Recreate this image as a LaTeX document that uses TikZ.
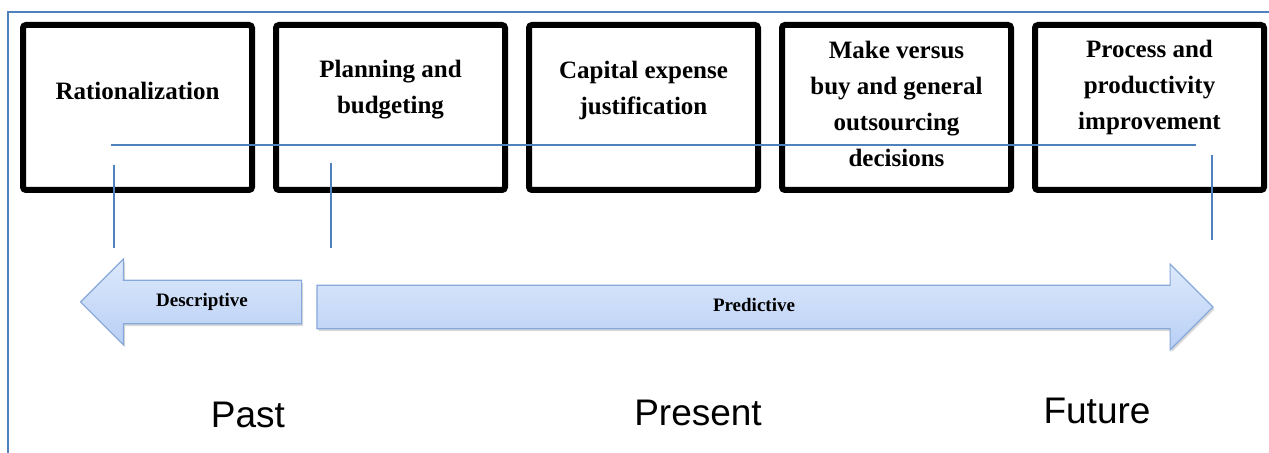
\documentclass[tikz,border=0pt]{standalone}
\usepackage{fontspec}
\setmainfont{Liberation Serif}
\newfontfamily\arialfont{Liberation Sans}
\usepackage{tikz}
\usetikzlibrary{shapes,shadows,arrows,positioning}
\definecolor{wordblue}{RGB}{79,129,189}
\definecolor{arrowtop}{RGB}{221,233,252}
\definecolor{arrowbot}{RGB}{184,207,245}
\definecolor{arrowline}{RGB}{135,168,218}
\tikzstyle{rule} = [draw=wordblue, line width=0.75pt]
\tikzstyle{stage} = [rectangle, draw, line width=3pt, rounded corners=1.5pt, minimum width=229pt, minimum height=165pt, node distance=253pt]
\tikzstyle{stagetext} = [align=center, font=\fontsize{25}{36}\selectfont\bfseries]
\tikzstyle{era} = [single arrow, draw=arrowline, line width=0.6pt, top color=arrowtop, bottom color=arrowbot, text height=13pt, text depth=4pt, inner ysep=13pt, inner xsep=0pt, single arrow head extend=21pt, single arrow head indent=0pt, drop shadow={opacity=0.3, shadow xshift=0.8pt, shadow yshift=-1.2pt}, font=\fontsize{19}{19}\selectfont\bfseries]
\tikzstyle{when} = [font=\arialfont\fontsize{37}{37}\selectfont]

\begin{document}
\begin{tikzpicture}[x=1pt, y=-1pt, scale=0.5, every node/.style={transform shape}]
	\useasboundingbox (0,0) rectangle (1269,453);
	\draw [wordblue, line width=1pt] (1269,12) -- (8,12) -- (8,453);

	% application boxes
	\node [stage] (rat) at (137.5,107.5) {};
	\node [stage, right of=rat] (plan) {};
	\node [stage, right of=plan] (capex) {};
	\node [stage, right of=capex] (make) {};
	\node [stage, right of=make] (proc) {};

	\node [stagetext, yshift=16.5pt] (ratT) at (rat) {Rationalization};
	\node [stagetext, yshift=17.5pt] (planT) at (plan) {Planning and\\budgeting};
	\node [stagetext, yshift=17.5pt] (capexT) at (capex) {Capital expense\\justification};
	\node [stagetext, yshift=3.5pt] (makeT) at (make) {Make versus\\buy and general\\outsourcing\\decisions};
	\node [stagetext, yshift=20.5pt] (procT) at (proc) {Process and\\productivity\\improvement};

	% timeline
	\coordinate (tlL) at (111,145);
	\coordinate (tlR) at (1196,145);
	\path [rule] (tlL) -- (tlR);

	\node [era, shape border rotate=180, minimum height=221pt] (desc) at (202,302) {Descriptive};
	\node [era, minimum height=896pt] (pred) at (754,307) {Predictive};

	\coordinate (tickA) at (114,165);
	\coordinate (tickB) at (331,163);
	\coordinate (tickC) at (1212,155);
	\path [rule] (tickA) -- (tickA |- 0,248);
	\path [rule] (tickB) -- (tickB |- 0,248);
	\path [rule] (tickC) -- (tickC |- 0,240);

	\node [when] (past) at (248,415) {Past};
	\node [when] (now) at (698,413) {Present};
	\node [when] (future) at (1097,411) {Future};
\end{tikzpicture}
\end{document}
